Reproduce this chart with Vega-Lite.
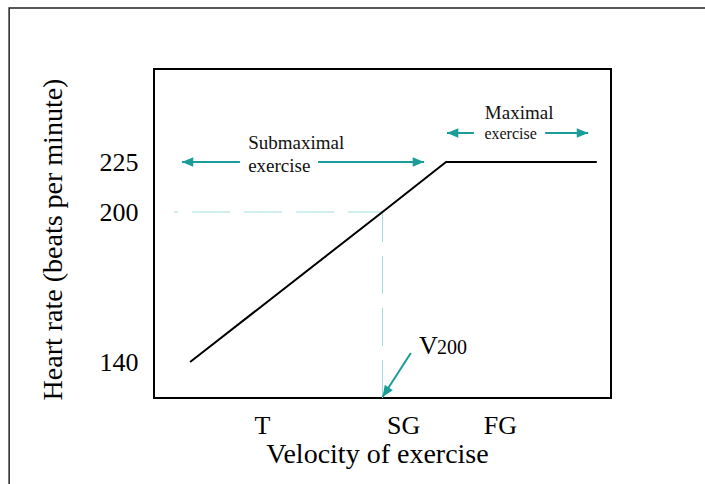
{
  "$schema": "https://vega.github.io/schema/vega-lite/v6.json",
  "width": 457,
  "height": 329,
  "autosize": "none",
  "padding": {"left": 154, "top": 69, "right": 94, "bottom": 86},
  "background": "white",
  "config": {
    "view": {"stroke": "black", "strokeWidth": 2},
    "font": "Liberation Serif",
    "text": {"font": "Liberation Serif"}
  },
  "datasets": {
    "frame": [{"v": -31.7, "hr": 302, "v2": 130, "hr2": 80}],
    "curve": [
      {"v": 7.9, "hr": 140},
      {"v": 50, "hr": 200},
      {"v": 63.9, "hr": 225},
      {"v": 96.9, "hr": 225}
    ],
    "guideH": [{"v": 4.4, "hr": 200, "v2": 50, "hr2": 200}],
    "guideV": [{"v": 50, "hr": 200, "v2": 50, "hr2": 123.6}],
    "shafts": [
      {"v": 6.1, "hr": 225, "v2": 18.8, "hr2": 225},
      {"v": 35.9, "hr": 225, "v2": 59.1, "hr2": 225},
      {"v": 64.1, "hr": 239.5, "v2": 70, "hr2": 239.5},
      {"v": 85.6, "hr": 239.5, "v2": 95, "hr2": 239.5},
      {"v": 56.2, "hr": 143.6, "v2": 50, "hr2": 126}
    ],
    "headsLeft": [{"v": 6.1, "hr": 225}, {"v": 64.1, "hr": 239.5}],
    "headsRight": [{"v": 59.1, "hr": 225}, {"v": 95, "hr": 239.5}],
    "headDiag": [{"v": 50, "hr": 126}],
    "textMid": [
      {"v": 20.6, "hr": 231.3, "t": "Submaximal"},
      {"v": 20.6, "hr": 220.2, "t": "exercise"},
      {"v": 72.4, "hr": 246.4, "t": "Maximal"}
    ],
    "textSmall": [{"v": 72.3, "hr": 236.5, "t": "exercise"}],
    "textV": [{"v": 58.0, "hr": 143.4, "t": "V"}],
    "textSub": [{"v": 61.9, "hr": 143.4, "t": "200"}]
  },
  "encoding": {
    "x": {
      "field": "v",
      "type": "quantitative",
      "scale": {"domain": [0, 100], "nice": false, "zero": false},
      "axis": {
        "values": [23.6, 54.5, 75.7],
        "labelExpr": "datum.value < 40 ? 'T' : (datum.value < 65 ? 'SG' : 'FG')",
        "ticks": false,
        "domain": false,
        "grid": false,
        "labelFontSize": 26,
        "labelFont": "Liberation Serif",
        "labelColor": "black",
        "labelPadding": 14,
        "title": "Velocity of exercise",
        "titleFont": "Liberation Serif",
        "titleFontSize": 28,
        "titleFontWeight": "normal",
        "titleColor": "black",
        "titlePadding": 2,
        "titleX": 223
      }
    },
    "y": {
      "field": "hr",
      "type": "quantitative",
      "scale": {"domain": [140, 200, 225], "range": [293, 143, 93], "nice": false, "zero": false},
      "axis": {
        "values": [140, 200, 225],
        "ticks": false,
        "domain": false,
        "grid": false,
        "labelFontSize": 26,
        "labelFont": "Liberation Serif",
        "labelColor": "black",
        "labelPadding": 16,
        "title": "Heart rate (beats per minute)",
        "titleFont": "Liberation Serif",
        "titleFontSize": 28,
        "titleFontWeight": "normal",
        "titleColor": "black",
        "titlePadding": 32,
        "titleY": 170
      }
    }
  },
  "layer": [
    {
      "data": {"name": "frame"},
      "mark": {"type": "rect", "fill": null, "fillOpacity": 0, "stroke": "#222222", "strokeWidth": 1.5, "clip": false},
      "encoding": {"x2": {"field": "v2"}, "y2": {"field": "hr2"}}
    },
    {
      "data": {"name": "guideH"},
      "mark": {"type": "rule", "color": "#a3dcd9", "strokeWidth": 1, "strokeDash": [38, 14], "strokeDashOffset": 34},
      "encoding": {"x2": {"field": "v2"}, "y2": {"field": "hr2"}}
    },
    {
      "data": {"name": "guideV"},
      "mark": {"type": "rule", "color": "#a3dcd9", "strokeWidth": 1, "strokeDash": [38, 14], "strokeDashOffset": 8},
      "encoding": {"x2": {"field": "v2"}, "y2": {"field": "hr2"}}
    },
    {
      "data": {"name": "curve"},
      "mark": {"type": "line", "color": "black", "strokeWidth": 2},
      "encoding": {}
    },
    {
      "data": {"name": "shafts"},
      "mark": {"type": "rule", "color": "#1a9c99", "strokeWidth": 2},
      "encoding": {"x2": {"field": "v2"}, "y2": {"field": "hr2"}}
    },
    {
      "data": {"name": "headsLeft"},
      "mark": {"type": "point", "shape": "M0,0L1.9,-0.8L1.9,0.8Z", "filled": true, "fill": "#1a9c99", "strokeWidth": 0, "opacity": 1, "size": 144}
    },
    {
      "data": {"name": "headsRight"},
      "mark": {"type": "point", "shape": "M0,0L-1.9,-0.8L-1.9,0.8Z", "filled": true, "fill": "#1a9c99", "strokeWidth": 0, "opacity": 1, "size": 144}
    },
    {
      "data": {"name": "headDiag"},
      "mark": {"type": "point", "shape": "M0,0L1.9,-0.8L1.9,0.8Z", "angle": 303.4, "filled": true, "fill": "#1a9c99", "strokeWidth": 0, "opacity": 1, "size": 144}
    },
    {
      "data": {"name": "textMid"},
      "mark": {"type": "text", "align": "left", "baseline": "alphabetic", "fontSize": 19, "font": "Liberation Serif", "color": "#111111"},
      "encoding": {"text": {"field": "t"}}
    },
    {
      "data": {"name": "textSmall"},
      "mark": {"type": "text", "align": "left", "baseline": "alphabetic", "fontSize": 16, "font": "Liberation Serif", "color": "#111111"},
      "encoding": {"text": {"field": "t"}}
    },
    {
      "data": {"name": "textV"},
      "mark": {"type": "text", "align": "left", "baseline": "alphabetic", "fontSize": 26, "font": "Liberation Serif", "color": "black"},
      "encoding": {"text": {"field": "t"}}
    },
    {
      "data": {"name": "textSub"},
      "mark": {"type": "text", "align": "left", "baseline": "alphabetic", "fontSize": 20, "font": "Liberation Serif", "color": "black"},
      "encoding": {"text": {"field": "t"}}
    }
  ]
}
